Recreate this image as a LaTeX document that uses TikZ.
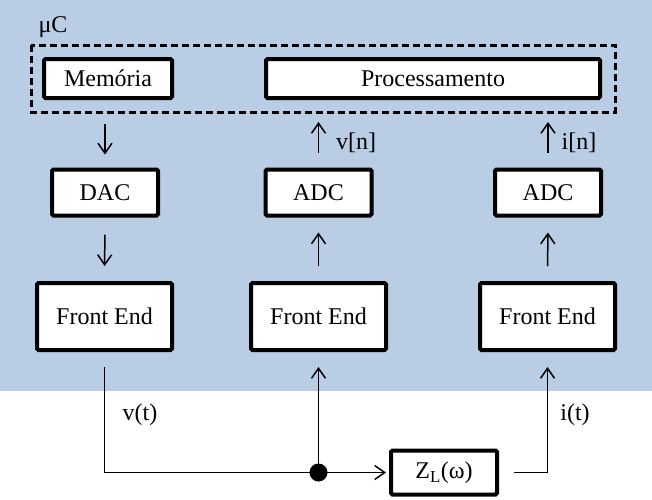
\documentclass[tikz,border=0pt]{standalone}
\usepackage{fontspec}
\setmainfont{Liberation Serif}
\usetikzlibrary{arrows.meta}
\definecolor{bgblue}{HTML}{B9CDE5}

\tikzset{
  block/.style={draw, line width=4pt, fill=white, rounded corners=1.5pt, inner sep=0pt},
  sig/.style={line width=1.5pt, -{Straight Barb[length=10pt,width=14pt,line width=1.5pt]}},
  lbl/.style={inner sep=0pt},
}

\begin{document}
\begin{tikzpicture}[x=1pt,y=-1pt,font=\fontsize{24}{28}\selectfont]
      \useasboundingbox (0,0) rectangle (652,499);
      \fill[bgblue] (0,0) rectangle (652,391);

      % microcontroller
      \draw[line width=3pt, dash pattern=on 7pt off 4pt] (31,45) rectangle (615,112);
      \node[lbl] (uc) at (53,27) {μC};
      \node[block, minimum width=128pt, minimum height=39pt] (mem) at (108,78.5) {Memória};
      \node[block, minimum width=334pt, minimum height=39pt] (proc) at (433,78.5) {Processamento};

      % converters
      \node[block, minimum width=106pt, minimum height=46pt] (dac) at (105,192.5) {DAC};
      \node[block, minimum width=106pt, minimum height=46pt] (adcv) at (318.5,192.5) {ADC};
      \node[block, minimum width=106pt, minimum height=46pt] (adci) at (548,192.5) {ADC};

      % front ends
      \node[block, minimum width=135pt, minimum height=67pt] (fedac) at (104.5,316.5) {Front End};
      \node[block, minimum width=135pt, minimum height=67pt] (fev) at (318.5,316.5) {Front End};
      \node[block, minimum width=135pt, minimum height=67pt] (fei) at (547.5,316.5) {Front End};

      % load
      \node[block, minimum width=106pt, minimum height=44pt] (zl) at (444,472.5) {Z\textsubscript{L}(ω)};

      \draw[sig, shorten <=24pt, shorten >=13pt] (dac.north |- mem.south) -- (dac.north);
      \draw[sig, shorten <=17pt, shorten >=15pt] (dac.south) -- (fedac.north);
      \draw[sig, shorten <=15pt, shorten >=15pt] (fev.north) -- (adcv.south);
      \draw[sig, shorten <=15pt, shorten >=22pt] (adcv.north) -- (adcv.north |- proc.south);
      \draw[sig, shorten <=15pt, shorten >=15pt] (fei.north) -- (adci.south);
      \draw[sig, shorten <=15pt, shorten >=22pt] (adci.north) -- (adci.north |- proc.south);
      \node[lbl] (vn) at (356,143) {v[n]};
      \node[lbl] (in) at (579,143) {i[n]};

      \draw[sig, shorten <=15pt, shorten >=3pt] (fedac.south) |- (zl.west);
      \node[circle, fill, inner sep=0pt, minimum size=18pt] (junc) at (fev.south |- zl.west) {};
      \draw[sig, shorten >=15pt] (junc.center) -- (fev.south);
      \draw[sig, shorten <=15pt, shorten >=15pt] (zl.east) -| (fei.south);
      \node[lbl] (vt) at (140,415) {v(t)};
      \node[lbl] (it) at (575,415) {i(t)};
    \end{tikzpicture}
\end{document}
